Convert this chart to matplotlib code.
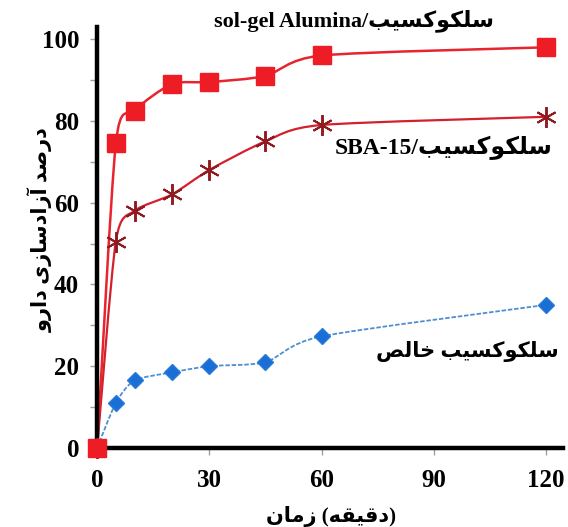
import numpy as np
import matplotlib
matplotlib.use("Agg")
import matplotlib.pyplot as plt
from matplotlib.path import Path
from matplotlib.patches import PathPatch
from matplotlib.ticker import MultipleLocator

# داده‌ها (خوانده شده از تصویر)
time_alumina = [0, 5, 10, 20, 30, 45, 60, 120]
release_alumina = [0, 74.5, 82.5, 89, 89.5, 91, 96, 98]

time_sba = [0, 5, 10, 20, 30, 45, 60, 120]
release_sba = [0, 50.5, 58, 62, 68, 75, 79, 81]

time_pure = [0, 5, 10, 20, 30, 45, 60, 120]
release_pure = [0, 11, 16.5, 18.5, 20, 21, 27.3, 35]

x_ticks = [0, 30, 60, 90, 120]
y_ticks = [0, 20, 40, 60, 80, 100]

# شکل‌دهی ساده حروف فارسی (بدون arabic_reshaper)
FORMS = {
    "\u0627": (0xFE8D, 0xFE8E, None, None),
    "\u0622": (0xFE81, 0xFE82, None, None),
    "\u0628": (0xFE8F, 0xFE90, 0xFE91, 0xFE92),
    "\u062F": (0xFEA9, 0xFEAA, None, None),
    "\u0631": (0xFEAD, 0xFEAE, None, None),
    "\u0632": (0xFEAF, 0xFEB0, None, None),
    "\u0633": (0xFEB1, 0xFEB2, 0xFEB3, 0xFEB4),
    "\u0635": (0xFEB9, 0xFEBA, 0xFEBB, 0xFEBC),
    "\u062E": (0xFEA5, 0xFEA6, 0xFEA7, 0xFEA8),
    "\u0642": (0xFED5, 0xFED6, 0xFED7, 0xFED8),
    "\u0644": (0xFEDD, 0xFEDE, 0xFEDF, 0xFEE0),
    "\u0645": (0xFEE1, 0xFEE2, 0xFEE3, 0xFEE4),
    "\u0646": (0xFEE5, 0xFEE6, 0xFEE7, 0xFEE8),
    "\u0647": (0xFEE9, 0xFEEA, 0xFEEB, 0xFEEC),
    "\u0648": (0xFEED, 0xFEEE, None, None),
    "\u06A9": (0xFB8E, 0xFB8F, 0xFB90, 0xFB91),
    "\u06CC": (0xFBFC, 0xFBFD, 0xFBFE, 0xFBFF),
}


def shape(text):
    out = []
    for i, ch in enumerate(text):
        if ch not in FORMS:
            out.append(ch)
            continue
        prev = text[i - 1] if i > 0 else ""
        nxt = text[i + 1] if i + 1 < len(text) else ""
        j_prev = prev in FORMS and FORMS[prev][2] is not None
        j_next = nxt in FORMS and FORMS[ch][2] is not None
        iso, fin, ini, med = FORMS[ch]
        if j_prev and j_next:
            code = med
        elif j_prev:
            code = fin
        elif j_next:
            code = ini
        else:
            code = iso
        out.append(chr(code))
    return "".join(out)[::-1]


celecoxib = "سلکوکسیب"
label_alumina = "sol-gel Alumina/" + shape(celecoxib)
label_sba = "SBA-15/" + shape(celecoxib)
label_pure = shape("سلکوکسیب خالص")
ylabel = shape("درصد آزادسازی دارو")
xlabel = shape("زمان") + " (" + shape("دقیقه") + ")"

plt.rcParams["font.family"] = ["Liberation Serif", "DejaVu Sans"]
plt.rcParams["font.weight"] = "bold"


def smooth_line(ax, xs, ys, color, lw, ls="-", k=8.0):
    # منحنی نرم شبیه Excel با Bezier (Catmull-Rom)
    pts = np.column_stack([xs, ys]).astype(float)
    verts = [pts[0]]
    codes = [Path.MOVETO]
    n = len(pts)
    for i in range(n - 1):
        p0 = pts[i - 1] if i > 0 else pts[i]
        p1 = pts[i]
        p2 = pts[i + 1]
        p3 = pts[i + 2] if i + 2 < n else pts[i + 1]
        c1 = p1 + (p2 - p0) / k
        c2 = p2 - (p3 - p1) / k
        verts += [c1, c2, p2]
        codes += [Path.CURVE4] * 3
    patch = PathPatch(Path(verts, codes), facecolor="none", edgecolor=color,
                      lw=lw, ls=ls, clip_on=False, zorder=2)
    ax.add_patch(patch)


fig = plt.figure(figsize=(5.68, 5.27), dpi=100)
ax = fig.add_axes([0.171, 0.150, 0.820, 0.799])

smooth_line(ax, time_pure, release_pure, "#4f8fd0", 1.3, (0, (2.5, 1)))
ax.plot(time_pure, release_pure, ls="none", marker="D", ms=8.5,
        color="#1a6fd6", mec="#2a7ad8", clip_on=False, zorder=3)

smooth_line(ax, time_sba, release_sba, "#d3202c", 1.6)
ax.plot(time_sba, release_sba, ls="none", marker=(6, 2, 0), ms=15, mew=1.4,
        color="#8f1a20", clip_on=False, zorder=3)

smooth_line(ax, time_alumina, release_alumina, "#e8242e", 1.8)
ax.plot(time_alumina, release_alumina, ls="none", marker="s", ms=13,
        color="#ee1c25", clip_on=False, zorder=4)

ax.set_xlim(0, 124.5)
ax.set_ylim(0, 103)
ax.set_xticks(x_ticks)
ax.set_yticks(y_ticks)
ax.yaxis.set_minor_locator(MultipleLocator(10))
ax.tick_params(axis="both", which="both", direction="out", length=5,
               width=1, color="#a0a0a0")
ax.tick_params(axis="y", which="major", labelsize=18, pad=8)
ax.tick_params(axis="x", which="major", labelsize=18, pad=10)

for s in ["top", "right"]:
    ax.spines[s].set_visible(False)
for s in ["left", "bottom"]:
    ax.spines[s].set_linewidth(3.2)
    ax.spines[s].set_color("black")

ax.text(68.7, 104.6, label_alumina, fontsize=16, ha="center", va="center")
ax.text(92.5, 73.5, label_sba, fontsize=17, ha="center", va="center")
ax.text(99, 23.5, label_pure, fontsize=15, ha="center", va="center")

fig.text(0.072, 0.565, ylabel, rotation=90, fontsize=15, ha="center", va="center")
fig.text(0.583, 0.02, xlabel, fontsize=15, ha="center", va="center")

fig.savefig("out.png", dpi=100)
